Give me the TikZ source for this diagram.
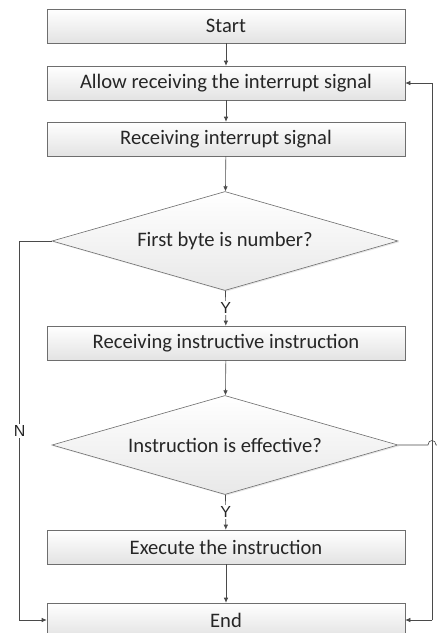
\documentclass[tikz,border=0pt]{standalone}
\usepackage{fontspec}
\setmainfont{Carlito}
\newfontfamily\ynfont{Liberation Sans}
\usetikzlibrary{shapes.geometric,arrows.meta,shadows,calc}
\definecolor{linegray}{HTML}{4A4A4A}
\definecolor{edgegray}{HTML}{6E6E6E}
\definecolor{textgray}{HTML}{262626}
\begin{document}
\begin{tikzpicture}[
    x=1pt, y=-1pt, % 按像素坐标
    line width=0.6pt,
    every node/.style={font=\fontsize{20.6}{24}\selectfont, text=textgray},
    box/.style={
        rectangle, draw=edgegray, minimum width=358pt, minimum height=34pt,
        top color=white, bottom color=gray!22, % 渐变填充
        drop shadow={shadow xshift=1.2pt, shadow yshift=-1.2pt, opacity=0.25}
    },
    decide/.style={
        diamond, aspect=3.5, draw=edgegray, minimum width=346pt, minimum height=99pt,
        inner sep=0pt, top color=white, bottom color=gray!18,
        drop shadow={shadow xshift=1.2pt, shadow yshift=-1.2pt, opacity=0.2}
    },
    conn/.style={draw=linegray, -{Latex[length=5pt,width=4.5pt]}},
    lbl/.style={fill=white, inner sep=1.5pt, font=\ynfont\fontsize{16}{18}\selectfont}
]
  \useasboundingbox (0,0) rectangle (437,633);
  % 流程节点
  \node[box] (start)  at (226,26)  {Start};
  \node[box] (allow)  at (226,83)  {Allow receiving the interrupt signal};
  \node[box] (recv)   at (226,139) {Receiving interrupt signal};
  \node[decide] (d1)  at (225,241) {First byte is number?};
  \node[box] (instr)  at (226,343) {Receiving instructive instruction};
  \node[decide] (d2)  at (225,445) {Instruction is effective?};
  \node[box] (exec)   at (226,547) {Execute the instruction};
  \node[box] (finish) at (226,620) {End};
  % 主干连线
  \draw[conn] (start) -- (allow);
  \draw[conn] (allow) -- (recv);
  \draw[conn] (recv) -- (d1);
  \draw[conn] (d1) -- node[lbl] {Y} (instr);
  \draw[conn] (instr) -- (d2);
  \draw[conn] (d2) -- node[lbl] {Y} (exec);
  \draw[conn] (exec) -- (finish);
  % 左侧 N 分支
  \draw[conn] (d1.west) -- ++(-32,0) |- node[lbl, pos=0.25] {N} (finish.west);
  % 右侧回路
  \coordinate (rb) at ($(finish.east)+(27,0)$);
  \coordinate (rh) at (437,445);
  \draw[conn] (rb) -- (finish.east);
  \draw[conn] (rb) |- (allow.east);
  \draw[draw=linegray] (d2.east) -- (428,445)
      .. controls (428,439) and (436,439) .. (436,445) -- (rh);
\end{tikzpicture}
\end{document}
